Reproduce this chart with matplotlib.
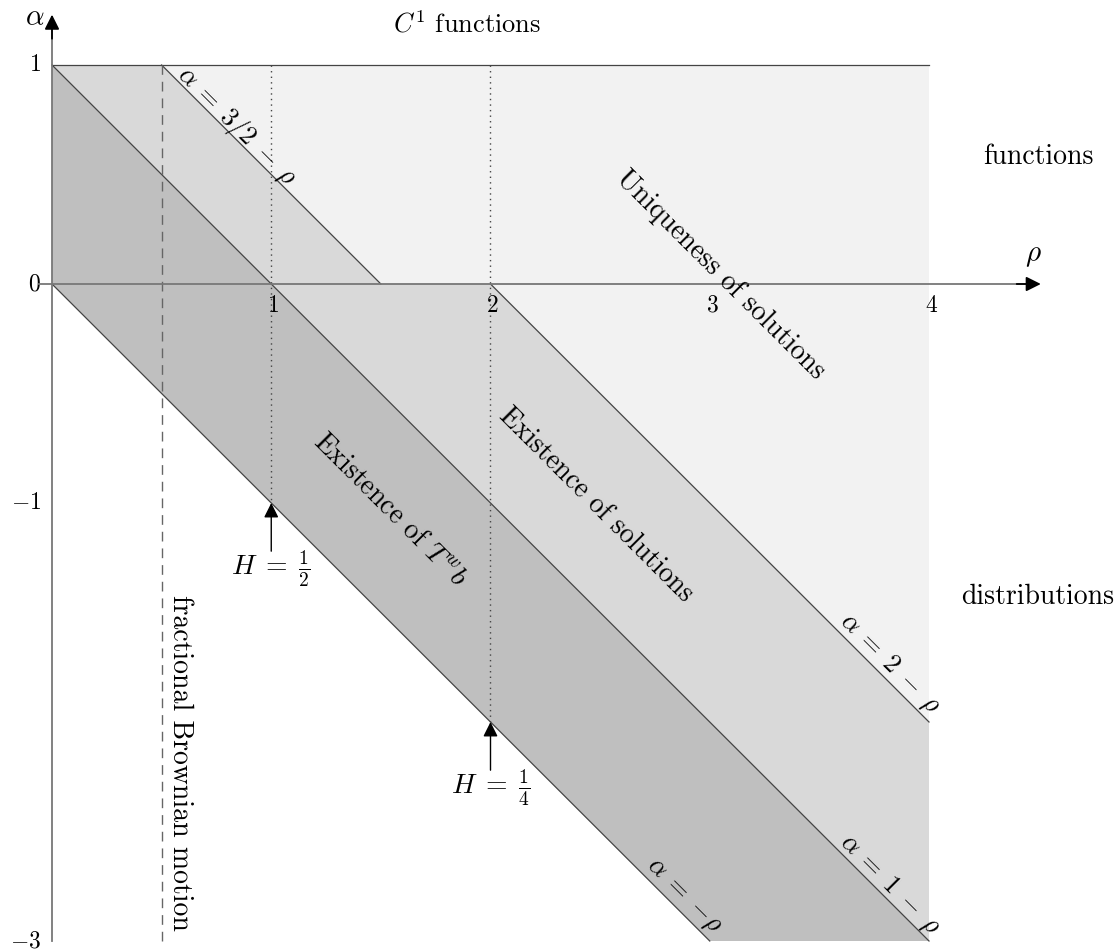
import matplotlib.pyplot as plt

plt.rcParams['mathtext.fontset'] = 'cm'
plt.rcParams['font.family'] = 'cmr10'
plt.rcParams['axes.unicode_minus'] = False

# shaded regions, corners in (rho, alpha)
unique_rho = [0, 4, 4]
unique_alpha = [1, 1, -3]
exist_rho = [0, 0.5, 1.5, 2, 4, 4]
exist_alpha = [1, 1, 0, 0, -2, -3]
twb_rho = [0, 4, 3, 0]
twb_alpha = [1, -3, -3, 0]

# boundary lines alpha = c - rho
bound_c = [1.5, 2, 1, 0]
bound_from = [0.5, 2, 0, 0]
bound_to = [1.5, 4, 4, 3]
bound_labels = [r'$\alpha\;=\;3/2\;-\;\rho$', r'$\alpha\;=\;2\;-\;\rho$',
                r'$\alpha\;=\;1\;-\;\rho$', r'$\alpha\;=\;{-}\rho$']
bound_label_rho = [0.84, 3.82, 3.82, 2.88]
bound_label_off = [0.06, 0.085, 0.075, 0.085]

xticks = [1, 2, 3, 4]
yticks = [1, 0, -1, -3]
ytick_labels = ['$1$', '$0$', '$-1$', '$-3$']

fbm_rho = 0.5
h_rho = [1, 2]
h_labels = [r'$H\;=\;\frac{1}{2}$', r'$H\;=\;\frac{1}{4}$']

PX = 219.25
fig = plt.figure(figsize=(11.2, 9.52), dpi=100)
ax = fig.add_axes([0, 0, 1, 1])
ax.set_xlim(-52 / PX, (1120 - 52) / PX)
ax.set_ylim(1 - (952 - 65) / 219.0, 1 + 65 / 219.0)
ax.axis('off')

ax.fill(unique_rho, unique_alpha, color='#f2f2f2', lw=0, zorder=1)
ax.fill(exist_rho, exist_alpha, color='#d9d9d9', lw=0, zorder=2)
ax.fill(twb_rho, twb_alpha, color='#bfbfbf', lw=0, zorder=3)

# top line alpha = 1
ax.plot([0, 4], [1, 1], color='#444444', lw=0.9, zorder=5)
for c, r0, r1, lab, lr, off in zip(bound_c, bound_from, bound_to, bound_labels,
                                   bound_label_rho, bound_label_off):
    ax.plot([r0, r1], [c - r0, c - r1], color='#444444', lw=0.9, zorder=5)
    ax.text(lr, c - lr + off, lab, rotation=-45, ha='center', va='center',
            fontsize=19, rotation_mode='anchor', zorder=6)

# fractional brownian motion and H lines
ax.plot([fbm_rho, fbm_rho], [-3, 1], color='#666666', lw=1.0, dashes=(7, 5), zorder=5)
for r, lab in zip(h_rho, h_labels):
    ax.plot([r, r], [1, -r], color='#444444', lw=1.0, ls=(0, (1, 3)), zorder=5)
    ax.annotate('', xy=(r, -r), xytext=(r, -r - 0.22),
                arrowprops=dict(arrowstyle='-|>', color='black', lw=1.0,
                                mutation_scale=22, shrinkA=0, shrinkB=0), zorder=7)
    ax.text(r, -r - 0.3, lab, ha='center', va='center', fontsize=20, zorder=7)

# axes
ax.plot([0, 0], [-3, 1.17], color='#777777', lw=1.3, zorder=6)
ax.plot([-0.06, 4.45], [0, 0], color='#777777', lw=1.3, zorder=6)
ax.annotate('', xy=(0, 1.23), xytext=(0, 1.12),
            arrowprops=dict(arrowstyle='-|>', color='black', lw=1.3,
                            mutation_scale=22, shrinkA=0, shrinkB=0), zorder=7)
ax.annotate('', xy=(4.51, 0), xytext=(4.40, 0),
            arrowprops=dict(arrowstyle='-|>', color='black', lw=1.3,
                            mutation_scale=22, shrinkA=0, shrinkB=0), zorder=7)
ax.text(-0.078, 1.215, r'$\alpha$', ha='center', va='center', fontsize=21)
ax.text(4.474, 0.128, r'$\rho$', ha='center', va='center', fontsize=21)

for t in xticks:
    ax.text(t + 0.01, -0.1, '$%d$' % t, ha='center', va='center', fontsize=17, zorder=7)
for t, lab in zip(yticks, ytick_labels):
    ax.text(-0.05, t, lab, ha='right', va='center', fontsize=17)

ax.text(1.893, 1.187, r'$C^1$ functions', ha='center', va='center', fontsize=19)
ax.text(4.497, 0.58, 'functions', ha='center', va='center', fontsize=20)
ax.text(4.497, -1.429, 'distributions', ha='center', va='center', fontsize=20)
ax.text(3.05, 0.04, 'Uniqueness of solutions', rotation=-45, ha='center', va='center',
        fontsize=20, rotation_mode='anchor', zorder=7)
ax.text(2.48, -1.01, 'Existence of solutions', rotation=-45, ha='center', va='center',
        fontsize=20, rotation_mode='anchor', zorder=7)
ax.text(1.54, -1.03, r'Existence of $T^w b$', rotation=-45, ha='center', va='center',
        fontsize=20, rotation_mode='anchor', zorder=7)
ax.text(0.584, -2.187, 'fractional Brownian motion', rotation=-90, ha='center', va='center',
        fontsize=20, rotation_mode='anchor', zorder=7)

fig.savefig('out.png', dpi=100)
